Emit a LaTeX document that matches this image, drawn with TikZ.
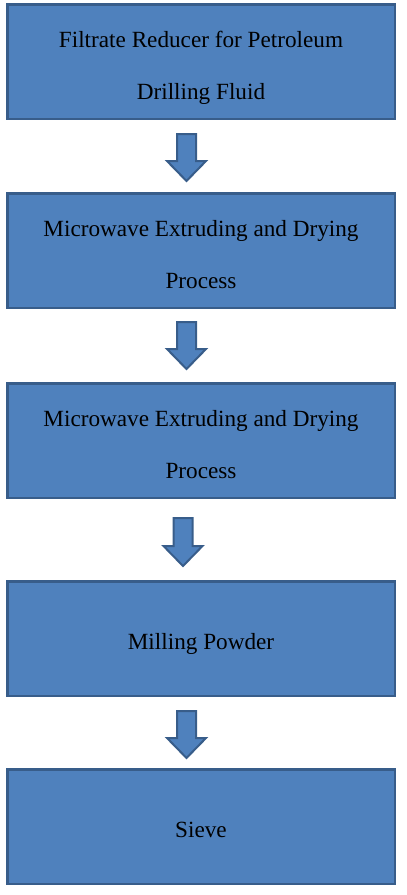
\documentclass[tikz,border=0pt]{standalone}
\usepackage{fontspec}
\setmainfont{Liberation Serif}
\usetikzlibrary{positioning, calc}
\definecolor{stepfill}{HTML}{4F81BD}
\definecolor{stepborder}{HTML}{385D8A}
\definecolor{textcolor}{HTML}{000000}
\tikzset{
  stepbox/.style={
    draw=stepborder,
    fill=stepfill,
    line width=2.5pt,
    align=center,
    text=textcolor,
    font=\fontsize{23.2}{52}\selectfont,
    inner sep=0pt,
    text height=21pt,
    text depth=0pt,
    minimum width=387.5pt,
    minimum height=114.5pt
  },
  twoline/.style={
    text height=75pt
  },
  blockarrow/.style={
    draw=stepborder,
    fill=stepfill,
    line width=2pt,
    to path={
      let \p1=(\tikztostart), \p2=(\tikztotarget) in
      (\x1-9.5pt,\y1) -- (\x1+9.5pt,\y1) -- (\x1+9.5pt,\y2+20pt)
      -- (\x1+19.5pt,\y2+20pt) -- (\x2,\y2) -- (\x1-19.5pt,\y2+20pt)
      -- (\x1-9.5pt,\y2+20pt) -- cycle
    }
  }
}
\begin{document}
\begin{tikzpicture}[x=1pt, y=1pt, node distance=72pt]

  \useasboundingbox (0,0) rectangle (407,-895);

  % ==================== STEPS ====================
  \node (s1) [stepbox, twoline] at (201,-61.5) {Filtrate Reducer for Petroleum\\Drilling Fluid};

  \node (s2) [stepbox, twoline, below=of s1] {Microwave Extruding and Drying\\Process};

  \node (s3) [stepbox, twoline, below=73pt of s2] {Microwave Extruding and Drying\\Process};

  \node (s4) [stepbox, below=81pt of s3] {Milling Powder};

  \node (s5) [stepbox, below=71pt of s4] {Sieve};

  % ==================== CONNECTORS ====================
  \draw [blockarrow] ([shift={(-14.5,-14)}]s1.south) to ([shift={(-14.5,11)}]s2.north);
  \draw [blockarrow] ([shift={(-14.5,-13)}]s2.south) to ([shift={(-14.5,13)}]s3.north);
  \draw [blockarrow] ([shift={(-18,-19)}]s3.south) to ([shift={(-18,14)}]s4.north);
  \draw [blockarrow] ([shift={(-14.5,-14)}]s4.south) to ([shift={(-14.5,10)}]s5.north);

\end{tikzpicture}
\end{document}
